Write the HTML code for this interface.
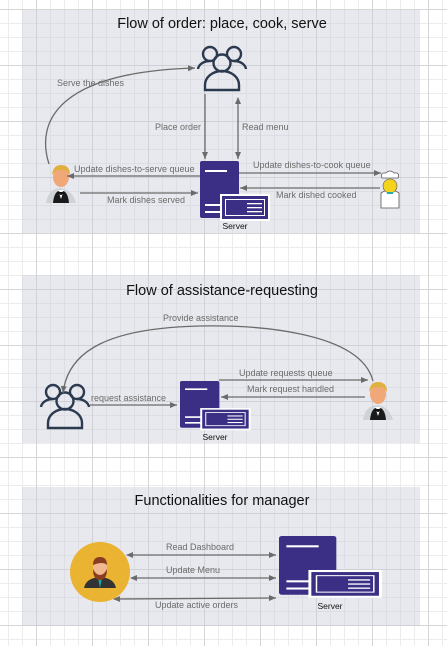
<!DOCTYPE html>
<html><head><meta charset="utf-8"><style>
html,body{margin:0;padding:0}
body{width:447px;height:646px;overflow:hidden;background:#fff;
background-image:linear-gradient(to right,#d6d6d6 1px,transparent 1px),linear-gradient(to bottom,#d6d6d6 1px,transparent 1px),linear-gradient(to right,#ececec 1px,transparent 1px),linear-gradient(to bottom,#ececec 1px,transparent 1px);
background-size:56px 56px,56px 56px,14px 14px,14px 14px;
background-position:36px 9px,36px 9px,8px 9px,8px 9px;}
svg{position:absolute;left:0;top:0}
text{font-family:"Liberation Sans",sans-serif}
.l{font-size:9px;fill:#6b6b6b}
.t{font-size:14.5px;fill:#111;text-anchor:middle}
.s{font-size:8.5px;fill:#111;text-anchor:middle}
.a{stroke:#6b6b6b;stroke-width:1.3;fill:none}
</style></head><body>
<svg width="447" height="646" viewBox="0 0 447 646">
<defs>
<marker id="ah" markerWidth="8" markerHeight="8" refX="7" refY="4" orient="auto" markerUnits="userSpaceOnUse"><path d="M0,1 L7,4 L0,7 Z" fill="#6b6b6b"/></marker>
<marker id="as" markerWidth="8" markerHeight="8" refX="1" refY="4" orient="auto" markerUnits="userSpaceOnUse"><path d="M7,1 L0,4 L7,7 Z" fill="#6b6b6b"/></marker>
<g id="srv">
<rect x="0" y="0" width="39" height="57" rx="2" fill="#3a2f85"/>
<rect x="5" y="9" width="22" height="2" fill="#fff"/>
<rect x="5" y="43" width="17" height="2" fill="#fff"/>
<rect x="5" y="50" width="17" height="2" fill="#fff"/>
<rect x="20" y="33" width="50" height="27" fill="#fff"/>
<rect x="22" y="35" width="46" height="23" fill="#3a2f85"/>
<rect x="25.5" y="38.5" width="39" height="16" fill="none" stroke="#fff" stroke-width="1"/>
<rect x="29" y="42" width="14" height="9" fill="#3a2f85"/>
<rect x="47" y="42" width="15" height="1.3" fill="#fff"/>
<rect x="47" y="46" width="15" height="1.3" fill="#fff"/>
<rect x="47" y="50" width="15" height="1.3" fill="#fff"/>
</g>
<g id="users" fill="none" stroke="#2b3a4f" stroke-width="2.4">
<circle cx="13" cy="10" r="7"/><circle cx="37" cy="10" r="7"/>
<path d="M1,25 A12,9 0 0 1 13,17"/><path d="M49,25 A12,9 0 0 0 37,17"/>
<circle cx="25" cy="19" r="8.5"/>
<path d="M8,46 L8,41 A17,14 0 0 1 42,41 L42,46 Z"/>
</g>
<g id="waiter">
<path d="M2,40 Q4,26 16,25 Q28,26 32,40 Z" fill="#cfd2d6"/>
<path d="M9,40 Q10,28 17,27 Q24,28 25,40 Z" fill="#1a1a1a"/>
<path d="M14,27 L17,36 L20,27 Z" fill="#fff"/>
<path d="M14,29 L17,31 L20,29" stroke="#111" stroke-width="2"/>
<ellipse cx="17" cy="14" rx="8" ry="10" fill="#f0a878"/>
<path d="M8,12 Q9,2 17,2 Q26,2 26,12 Q22,6 17,7 Q12,6 8,12 Z" fill="#e0b040"/>
</g>
</defs>

<rect x="22" y="10" width="398" height="223" fill="#c9cbd6" fill-opacity="0.42"/>
<rect x="22" y="275" width="398" height="168" fill="#c9cbd6" fill-opacity="0.42"/>
<rect x="22" y="487" width="398" height="139" fill="#c9cbd6" fill-opacity="0.42"/>

<text class="t" x="222" y="28">Flow of order: place, cook, serve</text>
<use href="#users" x="197" y="44"/>
<line class="a" x1="205" y1="94" x2="205" y2="159" marker-end="url(#ah)"/>
<line class="a" x1="238" y1="98" x2="238" y2="159" marker-end="url(#ah)" marker-start="url(#as)"/>
<text class="l" x="155" y="130">Place order</text>
<text class="l" x="242" y="130">Read menu</text>
<use href="#srv" x="200" y="161"/>
<text class="s" x="235" y="229">Server</text>
<use href="#waiter" x="44" y="163"/>
<g transform="translate(378,171)">
<path d="M3,37 L3,22 Q12,16 21,22 L21,37 Z" fill="#fff" stroke="#555" stroke-width="0.8"/>
<circle cx="12" cy="15" r="7" fill="#f3d31c" stroke="#555" stroke-width="0.6"/>
<path d="M4,7 Q2,1 8,2 Q12,-2 16,2 Q22,1 20,7 Z" fill="#fff" stroke="#555" stroke-width="0.8"/>
<rect x="9" y="21" width="6" height="2" fill="#2aa"/>
</g>
<line class="a" x1="200" y1="176" x2="67" y2="176" marker-end="url(#ah)"/>
<text class="l" x="74" y="172">Update dishes-to-serve queue</text>
<line class="a" x1="80" y1="193" x2="198" y2="193" marker-end="url(#ah)"/>
<text class="l" x="107" y="203">Mark dishes served</text>
<line class="a" x1="239" y1="173" x2="381" y2="173" marker-end="url(#ah)"/>
<text class="l" x="253" y="168">Update dishes-to-cook queue</text>
<line class="a" x1="380" y1="188" x2="240" y2="188" marker-end="url(#ah)"/>
<text class="l" x="276" y="198">Mark dished cooked</text>
<path class="a" d="M49,164 C35,120 60,72 195,68" marker-end="url(#ah)"/>
<text class="l" x="57" y="86">Serve the dishes</text>

<text class="t" x="222" y="295">Flow of assistance-requesting</text>
<use href="#users" x="40" y="382"/>
<use href="#srv" transform="translate(180,381) scale(1.01,0.82)"/>
<text class="s" x="215" y="440">Server</text>
<use href="#waiter" x="361" y="380"/>
<line class="a" x1="90" y1="405" x2="177" y2="405" marker-end="url(#ah)"/>
<text class="l" x="91" y="401">request assistance</text>
<line class="a" x1="219" y1="380" x2="368" y2="380" marker-end="url(#ah)"/>
<text class="l" x="239" y="376">Update requests queue</text>
<line class="a" x1="365" y1="397" x2="221" y2="397" marker-end="url(#ah)"/>
<text class="l" x="247" y="392">Mark request handled</text>
<path class="a" d="M373,381 C360,330 250,325 200,326 C110,328 68,350 63,393" marker-end="url(#ah)"/>
<text class="l" x="163" y="321">Provide assistance</text>

<text class="t" x="222" y="505">Functionalities for manager</text>
<circle cx="100" cy="572" r="30" fill="#ebb332"/>
<g transform="translate(100,572)">
<path d="M-16,16 Q-14,6 0,5 Q14,6 16,16 Z" fill="#333"/>
<path d="M-2,6 L0,16 L2,6 Z" fill="#1aa"/>
<ellipse cx="0" cy="-5" rx="7" ry="9" fill="#f0b890"/>
<path d="M-7,-3 Q-7,8 0,8 Q7,8 7,-3 Q4,3 0,3 Q-4,3 -7,-3 Z" fill="#8a3d20"/>
<path d="M-7,-7 Q-7,-15 0,-15 Q7,-15 7,-7 Q3,-11 -7,-7 Z" fill="#8a3d20"/>
</g>
<use href="#srv" transform="translate(279,536) scale(1.47,1.03)"/>
<text class="s" x="330" y="609">Server</text>
<line class="a" x1="127" y1="555" x2="276" y2="555" marker-end="url(#ah)" marker-start="url(#as)"/>
<text class="l" x="166" y="550">Read Dashboard</text>
<line class="a" x1="131" y1="578" x2="276" y2="578" marker-end="url(#ah)" marker-start="url(#as)"/>
<text class="l" x="166" y="573">Update Menu</text>
<line class="a" x1="114" y1="599" x2="276" y2="598" marker-end="url(#ah)" marker-start="url(#as)"/>
<text class="l" x="155" y="608">Update active orders</text>
</svg>
</body></html>
